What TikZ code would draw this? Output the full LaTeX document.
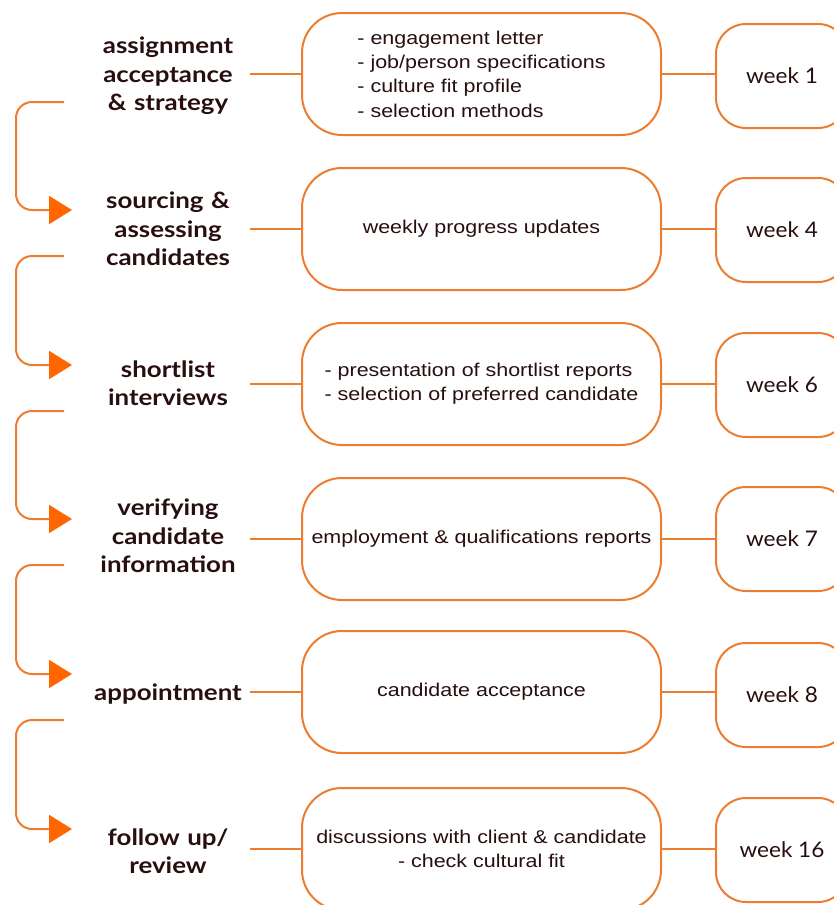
\documentclass[tikz,border=0pt]{standalone}
\usepackage{fontspec}
\setmainfont{Liberation Sans}[FakeStretch=1.16]
\newfontfamily\stagefont{Lato}[FakeStretch=1.15]
\newfontfamily\weekfont{Lato}[FakeStretch=1.05]
\usetikzlibrary{arrows.meta, positioning, calc}

\definecolor{lineorange}{RGB}{236,124,48}
\definecolor{tiporange}{RGB}{255,102,0}
\definecolor{inkbrown}{RGB}{40,14,14}

\begin{document}
\begin{tikzpicture}[
  x=1pt, y=1pt,
  stage/.style = {text width=164pt, inner sep=0pt, align=center, text=inkbrown,
                  font=\stagefont\bfseries\fontsize{22.5}{28.5}\selectfont},
  task/.style = {draw=lineorange, line width=2pt, rounded corners=40pt, minimum width=359pt,
                 minimum height=122pt, inner sep=0pt, align=left, text=inkbrown,
                 font=\fontsize{18.5}{24.3}\selectfont},
  week/.style = {draw=lineorange, line width=2pt, rounded corners=30pt, minimum width=132pt,
                 minimum height=104pt, inner sep=0pt, text=inkbrown,
                 font=\weekfont\fontsize{21.5}{24}\selectfont},
  link/.style = {draw=lineorange, line width=2pt},
  bracket/.style = {draw=lineorange, line width=2pt, rounded corners=16pt,
                    -{Triangle[length=23pt, width=28pt, color=tiporange]}}
]

  \useasboundingbox (0,0) rectangle (834,-905);
  \clip (0,0) rectangle (834,-905);

  % Stages
  \node[stage] (stage1) at (168,-76)  {assignment\\acceptance\\\& strategy};
  \node[stage] (stage2) at (168,-229) {sourcing \&\\assessing\\candidates};
  \node[stage] (stage3) at (168,-383) {shortlist\\interviews};
  \node[stage] (stage4) at (168,-536) {verifying\\candidate\\information};
  \node[stage] (stage5) at (168,-694) {appointment};
  \node[stage] (stage6) at (168,-851) {follow up/\\review};

  % Deliverables
  \node[task] (task1) at (481.5,-74) {- engagement letter\\- job/person specifications\\- culture fit profile\\- selection methods};
  \node[task] (task2) at (481.5,-229) {weekly progress updates};
  \node[task] (task3) at (481.5,-384) {- presentation of shortlist reports\\- selection of preferred candidate};
  \node[task] (task4) at (481.5,-539) {employment \& qualifications reports};
  \node[task] (task5) at (481.5,-692) {candidate acceptance};
  \node[task, align=center] (task6) at (481.5,-849) {discussions with client \& candidate\\- check cultural fit};

  % Timing
  \node[week] (week1) at (782,-76)  {week 1};
  \node[week] (week2) at (782,-230) {week 4};
  \node[week] (week3) at (782,-385) {week 6};
  \node[week] (week4) at (782,-539) {week 7};
  \node[week] (week5) at (782,-695) {week 8};
  \node[week] (week6) at (782,-850) {week 16};

  % Links
  \draw[link] (task1.west) -- (task1.west -| stage1.east);
  \draw[link] (task2.west) -- (task2.west -| stage2.east);
  \draw[link] (task3.west) -- (task3.west -| stage3.east);
  \draw[link] (task4.west) -- (task4.west -| stage4.east);
  \draw[link] (task5.west) -- (task5.west -| stage5.east);
  \draw[link] (task6.west) -- (task6.west -| stage6.east);
  \draw[link] (task1.east) -- (task1.east -| week1.west);
  \draw[link] (task2.east) -- (task2.east -| week2.west);
  \draw[link] (task3.east) -- (task3.east -| week3.west);
  \draw[link] (task4.east) -- (task4.east -| week4.west);
  \draw[link] (task5.east) -- (task5.east -| week5.west);
  \draw[link] (task6.east) -- (task6.east -| week6.west);

  % Flow between stages
  \coordinate (out1) at ($(task1.west)+(-237,-28)$);
  \coordinate (out2) at ($(task2.west)+(-237,-27)$);
  \coordinate (out3) at ($(task3.west)+(-237,-27)$);
  \coordinate (out4) at ($(task4.west)+(-237,-26)$);
  \coordinate (out5) at ($(task5.west)+(-237,-28)$);
  \coordinate (in2) at ($(task2.west)+(-229,19)$);
  \coordinate (in3) at ($(task3.west)+(-229,19)$);
  \coordinate (in4) at ($(task4.west)+(-229,20)$);
  \coordinate (in5) at ($(task5.west)+(-229,18)$);
  \coordinate (in6) at ($(task6.west)+(-229,20)$);
  \draw[bracket] (out1) -- ++(-48,0) |- (in2);
  \draw[bracket] (out2) -- ++(-48,0) |- (in3);
  \draw[bracket] (out3) -- ++(-48,0) |- (in4);
  \draw[bracket] (out4) -- ++(-48,0) |- (in5);
  \draw[bracket] (out5) -- ++(-48,0) |- (in6);

\end{tikzpicture}
\end{document}
